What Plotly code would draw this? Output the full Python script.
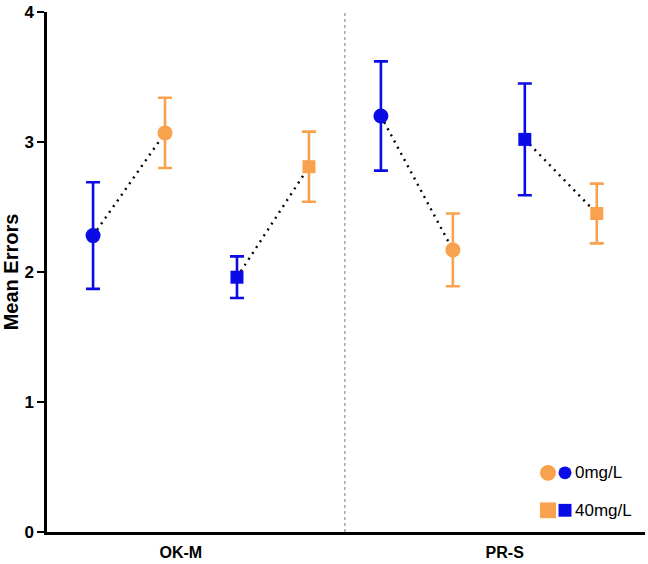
import plotly.graph_objects as go

groups = ["OK-M", "PR-S"]
conc_labels = ["0mg/L", "40mg/L"]
# per group, order: 0mg blue, 0mg orange, 40mg blue, 40mg orange
positions = [1, 2, 3, 4, 5, 6, 7, 8]
means = [2.28, 3.07, 1.96, 2.81, 3.20, 2.17, 3.02, 2.45]
errs = [0.41, 0.27, 0.16, 0.27, 0.42, 0.28, 0.43, 0.23]
colors_key = ["blue", "orange", "blue", "orange", "blue", "orange", "blue", "orange"]
symbols = ["circle", "circle", "square", "square", "circle", "circle", "square", "square"]
group_tick_pos = [2.22, 6.72]
divider_x = 4.5

BLUE = "#0B0BE6"
ORANGE = "#F8A24D"
cmap = {"blue": BLUE, "orange": ORANGE}
FONT = "Liberation Sans, Arial, sans-serif"

fig = go.Figure()

# dotted connectors between pairs
for i in range(0, 8, 2):
    fig.add_trace(go.Scatter(
        x=[positions[i], positions[i + 1]], y=[means[i], means[i + 1]],
        mode="lines", line=dict(color="black", width=2.4, dash="2px,5px"),
        showlegend=False, hoverinfo="skip"))

for i in range(8):
    c = cmap[colors_key[i]]
    fig.add_trace(go.Scatter(
        x=[positions[i]], y=[means[i]], mode="markers",
        marker=dict(color=c, size=15 if symbols[i] == "circle" else 13,
                    symbol=symbols[i], line=dict(width=0)),
        error_y=dict(type="data", array=[errs[i]], visible=True,
                     color=c, thickness=2.6, width=7),
        showlegend=False))

fig.add_shape(type="line", xref="x", yref="y", x0=divider_x, x1=divider_x, y0=0, y1=4,
              line=dict(color="#777777", width=1, dash="dot"), layer="below")

# custom legend
W, L, H, B = 648 - 47 - 3, 47, 527, 29
leg_rows = [(475, "circle", conc_labels[0]), (513, "square", conc_labels[1])]
x_or, x_bl = 548, 565
for py, sym, lab in leg_rows:
    yy = (564 - B - py) / H
    for px, col in [(x_or, ORANGE), (x_bl, BLUE)]:
        xp = (px - L) / W
        r = 8 if col == ORANGE else 6.5
        kind = "circle" if sym == "circle" else "rect"
        fig.add_shape(type=kind, xref="paper", yref="paper",
                      x0=xp - r / W, x1=xp + r / W, y0=yy - r / H, y1=yy + r / H,
                      fillcolor=col, line=dict(width=0))
    fig.add_annotation(xref="paper", yref="paper", x=(573 - L) / W, y=yy, text=lab,
                       showarrow=False, xanchor="left", yanchor="middle",
                       font=dict(family=FONT, size=17, color="black"))

fig.update_layout(
    width=648, height=564, plot_bgcolor="white", paper_bgcolor="white",
    margin=dict(l=47, r=3, t=8, b=29),
    font=dict(family=FONT, color="black"),
    xaxis=dict(range=[0.36, 8.67], tickmode="array", tickvals=group_tick_pos,
               ticktext=groups, showgrid=False, zeroline=False, showline=True,
               linecolor="black", linewidth=2.5, ticks="", ticklabelstandoff=4,
               tickfont=dict(family=FONT, size=16, color="black", weight="bold")),
    yaxis=dict(range=[0, 4], tickvals=[0, 1, 2, 3, 4], showgrid=False, zeroline=False,
               showline=True, linecolor="black", linewidth=2.5, ticks="outside",
               ticklen=7, tickwidth=2, tickcolor="black", ticklabeloverflow="allow",
               tickfont=dict(family=FONT, size=17, color="black", weight="bold"),
               title=dict(text="Mean Errors", standoff=3,
                          font=dict(family=FONT, size=20, color="black", weight="bold"))),
)

fig.write_html("out.html", post_script="document.body.style.margin='0';",
               config={"displayModeBar": False})
